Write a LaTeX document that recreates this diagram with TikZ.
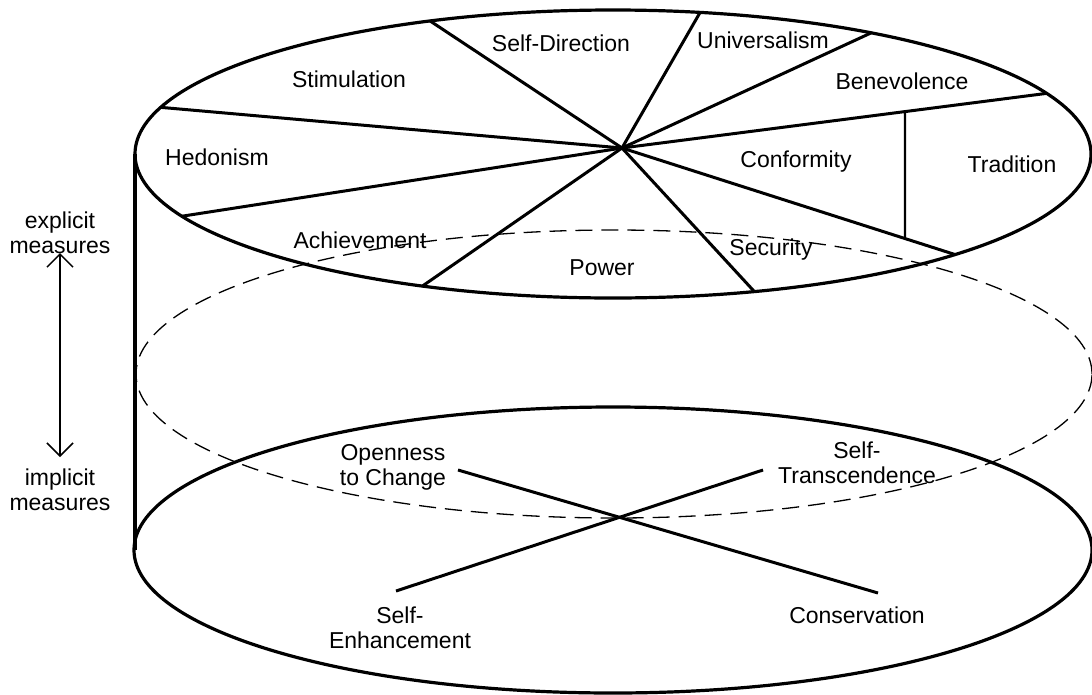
\documentclass[tikz,border=0pt]{standalone}
\usepackage{fontspec}
\setmainfont{Liberation Sans}
\usetikzlibrary{arrows.meta,intersections}

\begin{document}
\begin{tikzpicture}[x=1pt,y=-1pt,
  rim/.style={line width=3.2pt},
  spoke/.style={line width=3pt},
  hidden/.style={line width=1.3pt,dash pattern=on 17pt off 9pt},
  lbl/.style={font=\fontsize{23}{25}\selectfont,inner sep=0pt,anchor=base},
  mlbl/.style={lbl,align=center},
  barb/.tip={Straight Barb[length=13pt,width=26pt]}
]
\useasboundingbox (0,0) rectangle (1092,694);

% cylinder: top disc, hidden middle section, bottom disc, left side
\draw[rim] (613,154) ellipse [x radius=478pt, y radius=144pt];
\draw[hidden] (614,374) ellipse [x radius=478pt, y radius=144pt];
\draw[rim] (613,550) ellipse [x radius=479pt, y radius=143pt];
\coordinate (tl) at (135,154);
\coordinate (bl) at (135,550);
\draw[rim] (tl) -- (bl);

% spokes of the value circle
\coordinate (hub) at (622,148);
\foreach \t [count=\i] in {112.5,79.5,57.3,24.9,-44.3,-72.8,246.5,205.6,161.1}
  \coordinate (r\i) at ({613+478*cos(\t)},{154-144*sin(\t)});
\foreach \i in {1,...,9}
  \draw[spoke] (hub) -- (r\i);

% divider between Conformity and Tradition
\path[name path=sp4] (hub) -- (r4);
\path[name path=sp5] (hub) -- (r5);
\path[name path=vt] (905,60) -- (905,300);
\path[name intersections={of=sp4 and vt,by=tt}];
\path[name intersections={of=sp5 and vt,by=tb}];
\draw[line width=2.4pt] (tt) -- (tb);

% value labels
\node[lbl] (sd) at (561,51) {Self-Direction};
\node[lbl] (un) at (763,48) {Universalism};
\node[lbl] (be) at (902,89) {Benevolence};
\node[lbl] (st) at (349,87) {Stimulation};
\node[lbl] (he) at (217,165) {Hedonism};
\node[lbl] (co) at (796,167) {Conformity};
\node[lbl] (tr) at (1012,172) {Tradition};
\node[lbl] (ac) at (360,248) {Achievement};
\node[lbl] (po) at (602,275) {Power};
\node[lbl] (se) at (771,255) {Security};

% higher-order dimensions (base anchor sits on the last line)
\node[mlbl] (op) at (393,485) {Openness\\to Change};
\node[mlbl] (sen) at (400,648) {Self-\\Enhancement};
\node[mlbl] (stc) at (857,483) {Self-\\Transcendence};
\node[lbl] (cs) at (857,623) {Conservation};

\coordinate (opEnd) at (458,470);
\coordinate (csEnd) at (878,593);
\coordinate (seEnd) at (396,591);
\coordinate (stEnd) at (763,470);
\draw[spoke] (opEnd) -- (csEnd);
\draw[spoke] (seEnd) -- (stEnd);

% measurement axis
\node[mlbl] (ex) at (60,253) {explicit\\measures};
\node[mlbl] (im) at (60,510) {implicit\\measures};
\coordinate (axTop) at (60,253);
\coordinate (axBot) at (60,457);
\draw[line width=1.5pt,barb-barb] (axTop) -- (axBot);
\end{tikzpicture}
\end{document}
